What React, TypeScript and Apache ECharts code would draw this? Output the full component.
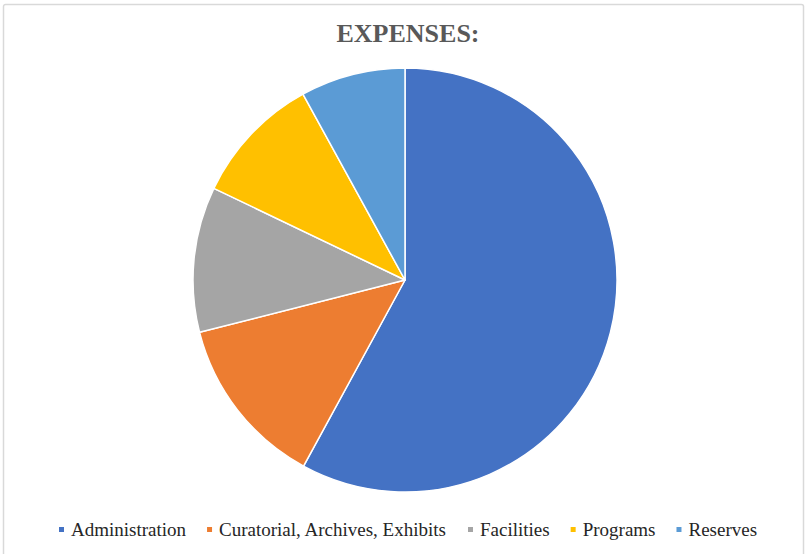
import React, { useEffect, useRef } from "react";
import * as echarts from "echarts";

const categories = [
  "Administration",
  "Curatorial, Archives, Exhibits",
  "Facilities",
  "Programs",
  "Reserves",
];
const values = [58.0, 13.1, 11.1, 9.9, 8.0];
const colors = ["#4472C4", "#ED7D31", "#A5A5A5", "#FFC000", "#5B9BD5"];
const titleText = "EXPENSES:";

export default function App() {
  const ref = useRef<HTMLDivElement>(null);
  useEffect(() => {
    if (!ref.current) return;
    const chart = echarts.init(ref.current, undefined, { renderer: "svg" });
    chart.setOption({
      animation: false,
      backgroundColor: "#ffffff",
      title: {
        text: titleText,
        left: 403,
        top: 15,
        textAlign: "center",
        textStyle: {
          fontFamily: "Liberation Serif, Times New Roman, serif",
          fontSize: 26,
          fontWeight: "bold",
          color: "#595959",
        },
      },
      graphic: [
        {
          type: "rect",
          shape: { x: 3.5, y: 4.5, width: 800, height: 560, r: 2 },
          style: { fill: "none", stroke: "#d9d9d9", lineWidth: 1.5 },
          silent: true,
        },
      ],
      legend: {
        top: 515,
        left: 52,
        itemWidth: 7,
        itemHeight: 7,
        itemGap: 19,
        icon: "rect",
        textStyle: {
          fontFamily: "Liberation Serif, Times New Roman, serif",
          fontSize: 19,
          color: "#262626",
          padding: [0, 0, 0, 1],
        },
        data: categories,
      },
      series: [
        {
          type: "pie",
          center: [405, 280],
          radius: 212,
          startAngle: 90,
          clockwise: true,
          label: { show: false },
          labelLine: { show: false },
          itemStyle: { borderColor: "#ffffff", borderWidth: 1.5 },
          data: categories.map((name, i) => ({
            name,
            value: values[i],
            itemStyle: { color: colors[i] },
          })),
        },
      ],
    });
    return () => chart.dispose();
  }, []);
  return (
    <div
      ref={ref}
      style={{ position: "fixed", left: 0, top: 0, width: 806, height: 554 }}
    />
  );
}
